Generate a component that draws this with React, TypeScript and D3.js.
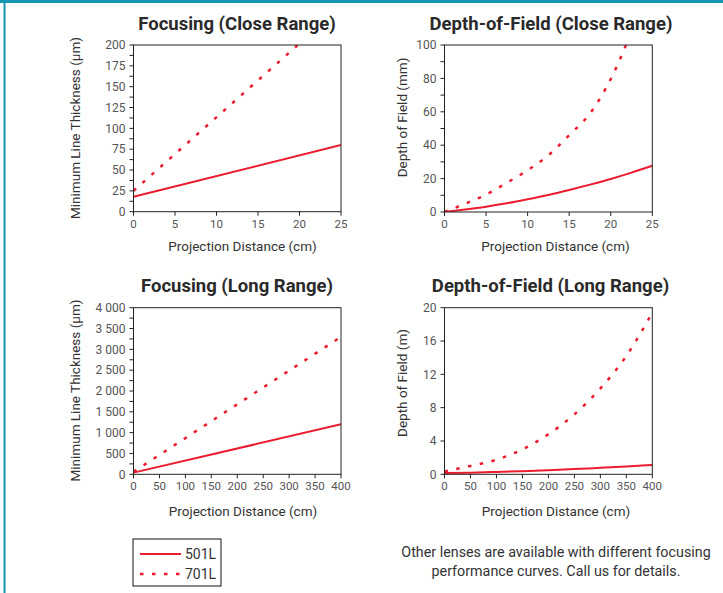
import React from "react";
import * as d3 from "d3";

// ---------- Data ----------
const seriesNames = ["501L", "701L"];

// Focusing (Close Range)
const focusCloseX501 = [0, 25];
const focusClose501 = [18, 80];
const focusCloseX701 = [0, 25];
const focusClose701 = [25, 246];

// Depth-of-Field (Close Range)
const dofCloseX501 = [0, 2.5, 5, 7.5, 10, 12.5, 15, 17.5, 20, 22.5, 25];
const dofClose501 = [0, 1.5, 3.2, 5.2, 7.6, 10.2, 13.2, 16.4, 19.8, 23.6, 27.7];
const dofCloseX701 = [0, 2.5, 5, 7.5, 10, 12.5, 15, 17.5, 20, 22.5];
const dofClose701 = [0, 5, 10.4, 17.5, 25, 34, 46, 59, 79.6, 108];

// Focusing (Long Range)
const focusLongX501 = [0, 400];
const focusLong501 = [40, 1200];
const focusLongX701 = [0, 400];
const focusLong701 = [60, 3300];

// Depth-of-Field (Long Range)
const dofLongX = [0, 50, 100, 150, 200, 250, 300, 350, 400];
const dofLong501 = [0.15, 0.2, 0.28, 0.38, 0.5, 0.63, 0.78, 0.94, 1.12];
const dofLong701 = [0.35, 1.0, 1.75, 3.0, 4.8, 7.2, 10.3, 14.2, 19.4];

// Tick labels
const closeXTicks = [0, 5, 10, 15, 20, 25];
const longXTicks = [0, 50, 100, 150, 200, 250, 300, 350, 400];
const focusCloseYTicks = [0, 25, 50, 75, 100, 125, 150, 175, 200];
const dofCloseYTicks = [0, 20, 40, 60, 80, 100];
const focusLongYTicks = [0, 500, 1000, 1500, 2000, 2500, 3000, 3500, 4000];
const dofLongYTicks = [0, 4, 8, 12, 16, 20];

const footnote = [
  "Other lenses are available with different focusing",
  "performance curves. Call us for details.",
];

// ---------- Styling ----------
const RED = "#ec1c2e";
const TEAL = "#1596b0";
const FONT = "Roboto, 'Liberation Sans', sans-serif";
const DASH = "3.5 8.5";
const spaceFmt = d3.formatLocale({
  decimal: ".",
  thousands: " ",
  grouping: [3],
  currency: ["", ""],
}).format(",");

type Series = { x: number[]; y: number[]; dashed: boolean };

type PanelProps = {
  id: string;
  title: string;
  yLabel: string;
  left: number;
  right: number;
  top: number;
  bottom: number;
  xDomain: [number, number];
  yDomain: [number, number];
  xTicks: number[];
  yTicks: number[];
  yMinorStep: number | null;
  series: Series[];
  titleX: number;
  titleY: number;
  xLabelX: number;
  xLabelY: number;
  yLabelX: number;
  yLabelY: number;
  fmt?: (v: number) => string;
};

function Panel(p: PanelProps) {
  const x = d3.scaleLinear().domain(p.xDomain).range([p.left, p.right]);
  const y = d3.scaleLinear().domain(p.yDomain).range([p.bottom, p.top]);
  const fmt = p.fmt || ((v: number) => String(v));
  const minor: number[] = [];
  if (p.yMinorStep) {
    for (let v = p.yDomain[0] + p.yMinorStep; v < p.yDomain[1]; v += p.yMinorStep * 2) minor.push(v);
  }
  const line = (s: Series) =>
    d3
      .line<number>()
      .x((_, i) => x(s.x[i]))
      .y((d) => y(d))
      .curve(d3.curveMonotoneX)(s.y) || "";
  return (
    <g>
      <defs>
        <clipPath id={p.id}>
          <rect x={p.left} y={p.top} width={p.right - p.left} height={p.bottom - p.top} />
        </clipPath>
      </defs>
      <text x={p.titleX} y={p.titleY} textAnchor="middle" fontFamily={FONT} fontWeight="bold" fontSize={18.5} fill="#2a2a2a">
        {p.title}
      </text>
      <g clipPath={`url(#${p.id})`}>
        {p.series.map((s, i) => (
          <path
            key={i}
            d={line(s)}
            fill="none"
            stroke={RED}
            strokeWidth={s.dashed ? 2.5 : 2}
            strokeDasharray={s.dashed ? DASH : undefined}
          />
        ))}
      </g>
      <rect x={p.left} y={p.top} width={p.right - p.left} height={p.bottom - p.top} fill="none" stroke="#222" strokeWidth={1} />
      {p.yTicks.map((t) => (
        <g key={"y" + t}>
          <line x1={p.left - 4} x2={p.left} y1={y(t)} y2={y(t)} stroke="#222" />
          <text x={p.left - 8} y={y(t)} dy="0.35em" textAnchor="end" fontFamily={FONT} fontSize={12} fill="#555">
            {fmt(t)}
          </text>
        </g>
      ))}
      {minor.map((t) => (
        <line key={"m" + t} x1={p.left - 4} x2={p.left} y1={y(t)} y2={y(t)} stroke="#222" />
      ))}
      {p.xTicks.map((t) => (
        <g key={"x" + t}>
          <line x1={x(t)} x2={x(t)} y1={p.bottom} y2={p.bottom + 4} stroke="#222" />
          <text x={x(t)} y={p.bottom + 16} textAnchor="middle" fontFamily={FONT} fontSize={11.5} fill="#555">
            {t}
          </text>
        </g>
      ))}
      <text x={p.xLabelX} y={p.xLabelY} textAnchor="middle" fontFamily={FONT} fontSize={13.5} fill="#333">
        Projection Distance (cm)
      </text>
      <text
        transform={`translate(${p.yLabelX},${p.yLabelY}) rotate(-90)`}
        textAnchor="middle"
        fontFamily={FONT}
        fontSize={13.5}
        fill="#333"
      >
        {p.yLabel}
      </text>
    </g>
  );
}

export default function App() {
  return (
    <svg width={723} height={593} style={{ position: "absolute", left: 0, top: 0, background: "#fff" }}>
      <rect x={0} y={0} width={723} height={593} fill="#fff" />
      <rect x={0} y={0} width={723} height={3} fill={TEAL} />
      <rect x={3.5} y={0} width={2} height={593} fill={TEAL} />

      <Panel
        id="c1"
        title="Focusing (Close Range)"
        yLabel="Minimum Line Thickness (µm)"
        left={133.5}
        right={341}
        top={45}
        bottom={211.7}
        xDomain={[0, 25]}
        yDomain={[0, 200]}
        xTicks={closeXTicks}
        yTicks={focusCloseYTicks}
        yMinorStep={12.5}
        series={[
          { x: focusCloseX501, y: focusClose501, dashed: false },
          { x: focusCloseX701, y: focusClose701, dashed: true },
        ]}
        titleX={237}
        titleY={30}
        xLabelX={242.5}
        xLabelY={251}
        yLabelX={80}
        yLabelY={128}
      />
      <Panel
        id="c2"
        title="Depth-of-Field (Close Range)"
        yLabel="Depth of Field (mm)"
        left={444.5}
        right={652.3}
        top={45}
        bottom={212}
        xDomain={[0, 25]}
        yDomain={[0, 100]}
        xTicks={closeXTicks}
        yTicks={dofCloseYTicks}
        yMinorStep={10}
        series={[
          { x: dofCloseX501, y: dofClose501, dashed: false },
          { x: dofCloseX701, y: dofClose701, dashed: true },
        ]}
        titleX={551}
        titleY={30}
        xLabelX={555.5}
        xLabelY={251}
        yLabelX={407}
        yLabelY={117.5}
      />
      <Panel
        id="c3"
        title="Focusing (Long Range)"
        yLabel="Minimum Line Thickness (µm)"
        left={133.5}
        right={341}
        top={307.7}
        bottom={474.3}
        xDomain={[0, 400]}
        yDomain={[0, 4000]}
        xTicks={longXTicks}
        yTicks={focusLongYTicks}
        yMinorStep={250}
        series={[
          { x: focusLongX501, y: focusLong501, dashed: false },
          { x: focusLongX701, y: focusLong701, dashed: true },
        ]}
        titleX={237}
        titleY={292}
        xLabelX={243}
        xLabelY={516}
        yLabelX={80}
        yLabelY={390.5}
        fmt={spaceFmt}
      />
      <Panel
        id="c4"
        title="Depth-of-Field (Long Range)"
        yLabel="Depth of Field (m)"
        left={444.5}
        right={652.3}
        top={307.7}
        bottom={474.3}
        xDomain={[0, 400]}
        yDomain={[0, 20]}
        xTicks={longXTicks}
        yTicks={dofLongYTicks}
        yMinorStep={null}
        series={[
          { x: dofLongX, y: dofLong501, dashed: false },
          { x: dofLongX, y: dofLong701, dashed: true },
        ]}
        titleX={550.5}
        titleY={292}
        xLabelX={556}
        xLabelY={516}
        yLabelX={407}
        yLabelY={383}
      />

      {/* Legend */}
      <rect x={133} y={539} width={88} height={47} fill="#fff" stroke="#111" strokeWidth={1} />
      {seriesNames.map((n, i) => (
        <g key={n}>
          <line
            x1={140}
            x2={181}
            y1={554 + i * 20}
            y2={554 + i * 20}
            stroke={RED}
            strokeWidth={i === 1 ? 2.5 : 2}
            strokeDasharray={i === 1 ? DASH : undefined}
          />
          <text x={185} y={559 + i * 20} fontFamily={FONT} fontSize={14} fill="#333">
            {n}
          </text>
        </g>
      ))}

      {footnote.map((t, i) => (
        <text key={i} x={556} y={557 + i * 19} textAnchor="middle" fontFamily={FONT} fontSize={14.3} fill="#333">
          {t}
        </text>
      ))}
    </svg>
  );
}
